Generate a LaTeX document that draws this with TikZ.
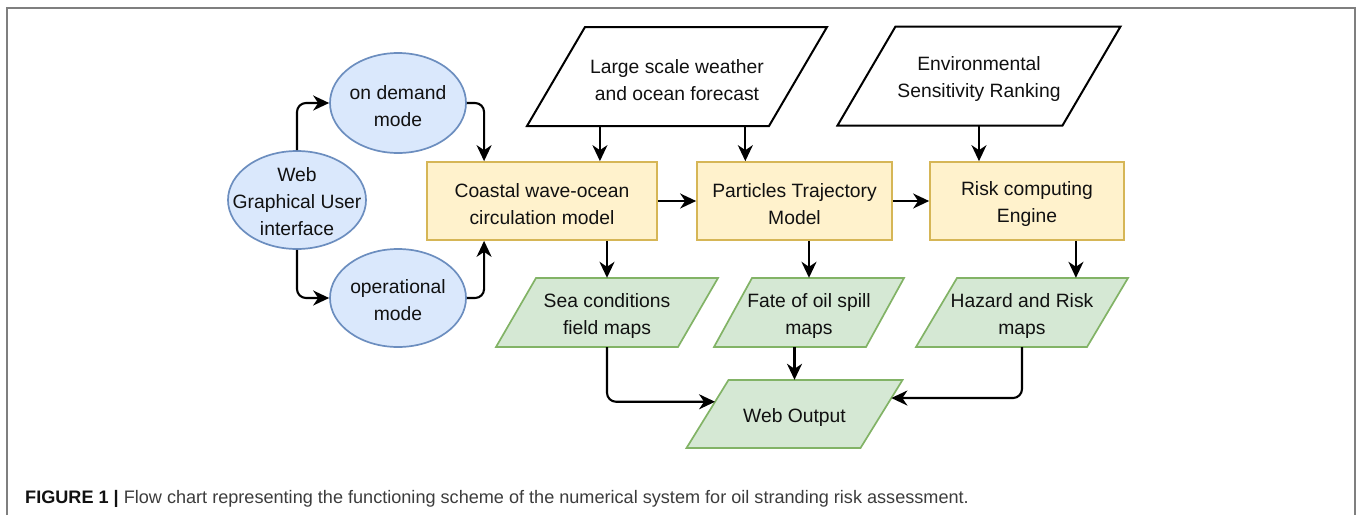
\documentclass[tikz,border=0pt]{standalone}
\usepackage{fontspec}
\setmainfont{Liberation Sans}
\usetikzlibrary{arrows.meta,calc,shapes.geometric}

\definecolor{blueFill}{HTML}{DAE8FC}
\definecolor{blueLine}{HTML}{6C8EBF}
\definecolor{yelFill}{HTML}{FFF2CC}
\definecolor{yelLine}{HTML}{D6B656}
\definecolor{grnFill}{HTML}{D5E8D4}
\definecolor{grnLine}{HTML}{82B366}
\definecolor{frameGray}{HTML}{7F7F7F}
\definecolor{capGray}{HTML}{3C3C3C}
\definecolor{txtBlack}{HTML}{111111}

% parallelogram: name, cx, cy, side width, height, skew, style, text
\newcommand\slantbox[8]{%
  \path[#7] ({#2-#4/2-#6/2},{#3+#5/2}) coordinate (#1-bl)
    -- ++(#4,0) coordinate (#1-br)
    -- ++(#6,-#5) coordinate (#1-tr)
    -- ++(-#4,0) coordinate (#1-tl) -- cycle;
  \node[inner sep=0pt, minimum width=#4, minimum height=#5] (#1) at (#2,#3) {};
  \node[lbl] (#1-t) at ([yshift=-3.5pt]#1.center) {#8};
}

\tikzset{
  x=1pt, y=-1pt,
  lbl/.style={inner sep=0pt, align=center, text=txtBlack,
    font=\fontsize{19.3}{27}\selectfont},
  ellbox/.style={ellipse, draw=blueLine, fill=blueFill, line width=1.7pt, inner sep=0pt},
  modelbox/.style={rectangle, draw=yelLine, fill=yelFill, line width=1.7pt,
    inner sep=0pt, minimum height=78},
  inputpar/.style={draw=black, fill=white, line width=2pt},
  outputpar/.style={draw=grnLine, fill=grnFill, line width=1.7pt},
  conn/.style={-{Stealth[length=16pt,width=15pt,inset=5pt]}, line width=2.1pt,
    rounded corners=9pt, draw=black},
}

\begin{document}
\begin{tikzpicture}
\useasboundingbox (0,0) rectangle (1358,515);

% outer frame
\draw[frameGray, line width=1.5pt] (7,515) -- (7,8) -- (1355,8) -- (1355,515);

% user interface and modes
\node[ellbox, minimum width=138, minimum height=98] (gui) at (297,200) {};
\node[lbl] (gui-t) at ([yshift=-2pt]gui.center) {Web\\Graphical User\\interface};
\node[ellbox, minimum width=136, minimum height=100] (ondem) at (398,103) {};
\node[lbl] (ondem-t) at ([yshift=-3.5pt]ondem.center) {on demand\\mode};
\node[ellbox, minimum width=136, minimum height=98] (oper) at (398,298) {};
\node[lbl] (oper-t) at ([yshift=-2pt]oper.center) {operational\\mode};

% input data
\slantbox{large}{677}{76.5}{242}{99}{58}{inputpar}{Large scale weather\\and ocean forecast}
\slantbox{env}{979}{76}{225}{99}{58}{inputpar}{Environmental\\Sensitivity Ranking}

% models
\node[modelbox, minimum width=230] (coast) at (542,201) {};
\node[lbl] (coast-t) at ([yshift=-3pt]coast.center) {Coastal wave-ocean\\circulation model};
\node[modelbox, minimum width=195] (part) at (794.5,201) {};
\node[lbl] (part-t) at ([yshift=-3pt]part.center) {Particles Trajectory\\Model};
\node[modelbox, minimum width=194] (risk) at (1027,201) {};
\node[lbl] (risk-t) at ([yshift=-3pt]risk.center) {Risk computing\\Engine};

% products
\slantbox{sea}{607}{312.5}{182}{69}{40}{outputpar}{Sea conditions\\field maps}
\slantbox{fate}{809}{312.5}{152}{69}{38}{outputpar}{Fate of oil spill\\maps}
\slantbox{hazard}{1022}{312.5}{171}{69}{41}{outputpar}{Hazard and Risk\\maps}
\slantbox{web}{794.5}{414}{174}{68}{42}{outputpar}{Web Output}

% connection points
\coordinate (coast-top1) at ($(coast.north west)!0.25!(coast.north east)$);
\coordinate (coast-top2) at ($(coast.north west)!0.75!(coast.north east)$);
\coordinate (coast-bot1) at ($(coast.south west)!0.25!(coast.south east)$);
\coordinate (part-top) at ($(part.north west)!0.25!(part.north east)$);
\coordinate (risk-bot) at ($(risk.south west)!0.75!(risk.south east)$);
\coordinate (web-inl) at ($(web-bl)!0.68!(web-tl)$);
\coordinate (web-inr) at ($(web-br)!0.735!(web-tr)$);

% connectors
\draw[conn] (gui.north) |- (ondem.west);
\draw[conn] (ondem.east) -| (coast-top1);
\draw[conn] (gui.south) |- (oper.west);
\draw[conn] (oper.east) -| (coast-bot1);
\draw[conn] (large.south -| coast-top2) -- (coast-top2);
\draw[conn] (large.south -| part-top) -- (part-top);
\draw[conn] (env.south) -- (env.south |- risk.north);
\draw[conn] (coast.east) -- (part.west);
\draw[conn] (part.east) -- (risk.west);
\draw[conn] (sea.north |- coast.south) -- (sea.north);
\draw[conn] (fate.north |- part.south) -- (fate.north);
\draw[conn] (risk-bot) -- (risk-bot |- hazard.north);
\draw[conn] (sea.south) |- (web-inl);
\draw[conn] (web.north |- fate.south) -- (web.north);
\draw[conn] (hazard.south) |- (web-inr);

% caption
\node[anchor=base west, inner sep=0pt, text=capGray, font=\fontsize{18.1}{21}\selectfont]
  (caption) at (25,503)
  {\textcolor{txtBlack}{\textbf{FIGURE 1 |}} Flow chart representing the functioning scheme of the numerical system for oil stranding risk assessment.};
\end{tikzpicture}
\end{document}
